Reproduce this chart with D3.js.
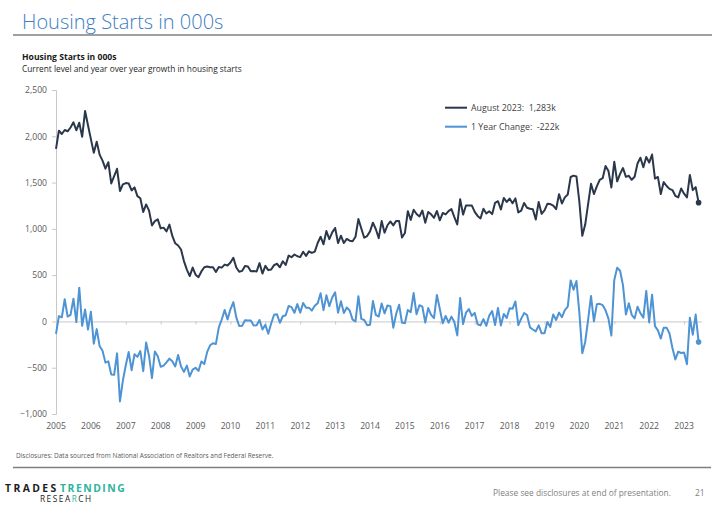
<!DOCTYPE html>
<html>
<head>
<meta charset="utf-8">
<script src="https://cdn.jsdelivr.net/npm/d3@7"></script>
<style>
  html, body { margin: 0; padding: 0; background: #fff; }
  svg { display: block; font-family: "Open Sans", sans-serif; }
</style>
</head>
<body>
<div id="chart"></div>
<script>
// monthly housing starts, 000s SAAR (first point = Mar 2005, last = Aug 2023)
var starts = [
    1864, 2061, 2025, 2068, 2054, 2095, 2151, 2065, 2147, 1994,
    2273, 2119, 1969, 1821, 1942, 1802, 1737, 1650, 1720, 1491, 1570, 1649,
    1409, 1480, 1495, 1490, 1415, 1448, 1354, 1330, 1183, 1264, 1197, 1037,
    1084, 1103, 1005, 1013, 973, 1046, 923, 844, 820, 777, 652, 560,
    490, 582, 505, 478, 540, 585, 594, 586, 585, 534, 588, 581,
    614, 604, 636, 687, 583, 536, 546, 599, 594, 543, 545, 539,
    630, 517, 600, 554, 561, 608, 623, 585, 650, 610, 711, 694,
    723, 704, 695, 753, 708, 757, 740, 754, 847, 915, 833, 976,
    888, 962, 1010, 847, 926, 847, 891, 872, 866, 915, 1106, 1003,
    904, 922, 973, 1067, 996, 900, 1084, 959, 1039, 1080, 1038, 1086,
    1084, 907, 956, 1191, 1097, 1206, 1161, 1134, 1198, 1067, 1182, 1157,
    1119, 1193, 1092, 1171, 1156, 1192, 1213, 1127, 1047, 1320, 1154, 1252,
    1253, 1253, 1184, 1140, 1113, 1217, 1166, 1190, 1159, 1281, 1299, 1209,
    1334, 1290, 1327, 1276, 1329, 1177, 1196, 1280, 1228, 1217, 1212, 1101,
    1291, 1162, 1199, 1270, 1268, 1251, 1212, 1375, 1274, 1340, 1371, 1560,
    1575, 1565, 1290, 925, 1046, 1267, 1487, 1376, 1459, 1530, 1547, 1680,
    1625, 1447, 1725, 1514, 1594, 1657, 1562, 1573, 1530, 1563, 1706, 1768,
    1666, 1777, 1716, 1803, 1543, 1561, 1377, 1505, 1463, 1432, 1419, 1357,
    1340, 1436, 1380, 1340, 1583, 1418, 1451, 1283
];

// year over year change, 000s
var yoyChange = [
    -134, 58, 44, 240, 52, 71, 246, -7, 365, -48,
    129, -88, 105, -240, -83, -266, -317, -445, -431, -574, -577, -345,
    -864, -639, -474, -331, -527, -354, -383, -320, -537, -227, -373, -612,
    -325, -377, -490, -477, -442, -402, -431, -486, -363, -487, -545, -477,
    -594, -521, -500, -535, -433, -461, -329, -258, -235, -243, -64, 21,
    124, 22, 131, 209, 43, -49, -48, 13, 9, 9, -43, -42,
    16, -87, -36, -133, -22, 72, 77, -14, 56, 67, 166, 155,
    93, 187, 95, 199, 147, 149, 117, 169, 197, 305, 122, 282,
    165, 258, 315, 94, 218, 90, 151, 118, 19, 0, 273, 27,
    16, -40, -37, 220, 70, 53, 193, 87, 173, 165, -68, 83,
    180, -15, -17, 124, 101, 306, 77, 175, 159, -13, 144, 71,
    35, 286, 136, -20, 59, -14, 52, -7, -151, 253, -28, 95,
    134, 60, 92, -31, -43, 25, -47, 63, 112, -39, 145, -43,
    81, 37, 143, 136, 216, -40, 30, 90, 69, -64, -87, -108,
    -43, -128, -128, -6, -61, 74, 16, 95, 46, 123, 159, 443,
    343, 436, 90, -343, -222, 16, 275, 1, 185, 190, 176, 120,
    30, -152, 448, 580, 548, 390, 75, 197, 71, 33, 159, 88,
    41, 330, -9, 289, -51, -96, -185, -68, -67, -131, -287, -411,
    -326, -341, -336, -463, 40, -143, 74, -222
];

var yearLabels = d3.range(2005, 2024);
var yTicks = [-1000, -500, 0, 500, 1000, 1500, 2000, 2500];
var legendItems = [
    { key: "starts", label: "August 2023:  1,283k" },
    { key: "change", label: "1 Year Change:  -222k" }
];

var W = 719, H = 515,
    COLOR = { starts: "#2b374b", change: "#4e93d3" },
    AXIS = "#c8c8c8", TEXT = "#595959";

var svg = d3.select("#chart").append("svg")
    .attr("width", W)
    .attr("height", H);

// page header
svg.append("text")
    .attr("x", 22).attr("y", 29)
    .style("font-size", "20px")
    .style("font-weight", 300)
    .style("fill", "#3d7dc1")
    .text("Housing Starts in 000s");
svg.append("line")
    .attr("x1", 13).attr("x2", 712)
    .attr("y1", 35).attr("y2", 35)
    .style("stroke", "#7f7f7f").style("stroke-width", 1.3);

svg.append("text")
    .attr("x", 22).attr("y", 60)
    .style("font-size", "8.6px").style("font-weight", 700)
    .style("fill", "#1a1a1a")
    .text("Housing Starts in 000s");
svg.append("text")
    .attr("x", 22).attr("y", 71.5)
    .style("font-size", "8.3px")
    .style("fill", "#262626")
    .text("Current level and year over year growth in housing starts");

// chart
var x = d3.scaleLinear().domain([0, 222]).range([56, 701.5]),
    y = d3.scaleLinear().domain([-1000, 2500]).range([414, 90]);

var g = svg.append("g");

// y axis
var yAxis = g.append("g")
    .attr("transform", "translate(" + x(0) + ",0)")
    .call(d3.axisLeft(y).tickValues(yTicks).tickSize(4).tickPadding(5)
        .tickFormat(d3.format(",")));
yAxis.select(".domain").style("stroke", AXIS);
yAxis.selectAll(".tick line").style("stroke", AXIS);
yAxis.selectAll(".tick text")
    .style("font-size", "8.6px")
    .style("fill", TEXT)
    .style("font-family", "Open Sans, sans-serif");

// zero line with year ticks
var xAxis = g.append("g")
    .attr("transform", "translate(0," + y(0) + ")")
    .call(d3.axisBottom(x).tickValues(yearLabels.map(function (d, i) { return i * 12; }))
        .tickSize(3).tickSizeOuter(0).tickFormat(""));
xAxis.select(".domain").style("stroke", AXIS);
xAxis.selectAll(".tick line").style("stroke", AXIS);

// year labels along the bottom
g.append("g").selectAll("text")
    .data(yearLabels)
    .enter().append("text")
    .attr("x", function (d, i) { return x(i * 12); })
    .attr("y", 428.5)
    .attr("text-anchor", "middle")
    .style("font-size", "8.6px")
    .style("fill", TEXT)
    .text(function (d) { return d; });

// lines
var line = d3.line()
    .x(function (d, i) { return x(i); })
    .y(function (d) { return y(d); });

[["change", yoyChange], ["starts", starts]].forEach(function (s) {
    var key = s[0], values = s[1], last = values.length - 1;
    g.append("path")
        .datum(values)
        .attr("d", line)
        .style("fill", "none")
        .style("stroke", COLOR[key])
        .style("stroke-width", 2)
        .style("stroke-linejoin", "round");
    g.append("circle")
        .attr("cx", x(last))
        .attr("cy", y(values[last]))
        .attr("r", 2.8)
        .style("fill", COLOR[key]);
});

// legend
var legend = g.append("g").selectAll("g")
    .data(legendItems)
    .enter().append("g")
    .attr("transform", function (d, i) { return "translate(445," + (107.7 + i * 19) + ")"; });
legend.append("line")
    .attr("x1", 0).attr("x2", 22)
    .style("stroke", function (d) { return COLOR[d.key]; })
    .style("stroke-width", 2);
legend.append("text")
    .attr("x", 26).attr("y", 3.2)
    .style("font-size", "8.8px")
    .style("white-space", "pre")
    .style("fill", "#404040")
    .text(function (d) { return d.label; });

// footer
svg.append("text")
    .attr("x", 16).attr("y", 458)
    .style("font-size", "6.5px")
    .style("fill", TEXT)
    .text("Disclosures: Data sourced from National Association of Realtors and Federal Reserve.");
svg.append("line")
    .attr("x1", 13).attr("x2", 711)
    .attr("y1", 467.5).attr("y2", 467.5)
    .style("stroke", "#7f7f7f").style("stroke-width", 1.3);

var logo = svg.append("g").style("font-weight", 700);
logo.append("text")
    .attr("x", 5).attr("y", 492)
    .style("font-size", "10.4px").style("letter-spacing", "2.4px")
    .style("fill", "#1c1c1c")
    .text("TRADES");
logo.append("text")
    .attr("x", 60).attr("y", 492)
    .style("font-size", "10.4px").style("letter-spacing", "1.5px")
    .style("fill", "#2fb49b")
    .text("TRENDING");
var research = logo.append("text")
    .attr("x", 40).attr("y", 501.5)
    .style("font-size", "8.3px").style("font-weight", 400)
    .style("letter-spacing", "1.5px")
    .style("fill", "#1c1c1c");
research.append("tspan").text("RESEA");
research.append("tspan").style("fill", "#2fb49b").text("R");
research.append("tspan").text("CH");

svg.append("text")
    .attr("x", 493).attr("y", 496)
    .style("font-size", "8.4px")
    .style("fill", "#7f7f7f")
    .text("Please see disclosures at end of presentation.");
svg.append("text")
    .attr("x", 695).attr("y", 496)
    .style("font-size", "8.4px")
    .style("fill", "#7f7f7f")
    .text("21");
</script>
</body>
</html>
